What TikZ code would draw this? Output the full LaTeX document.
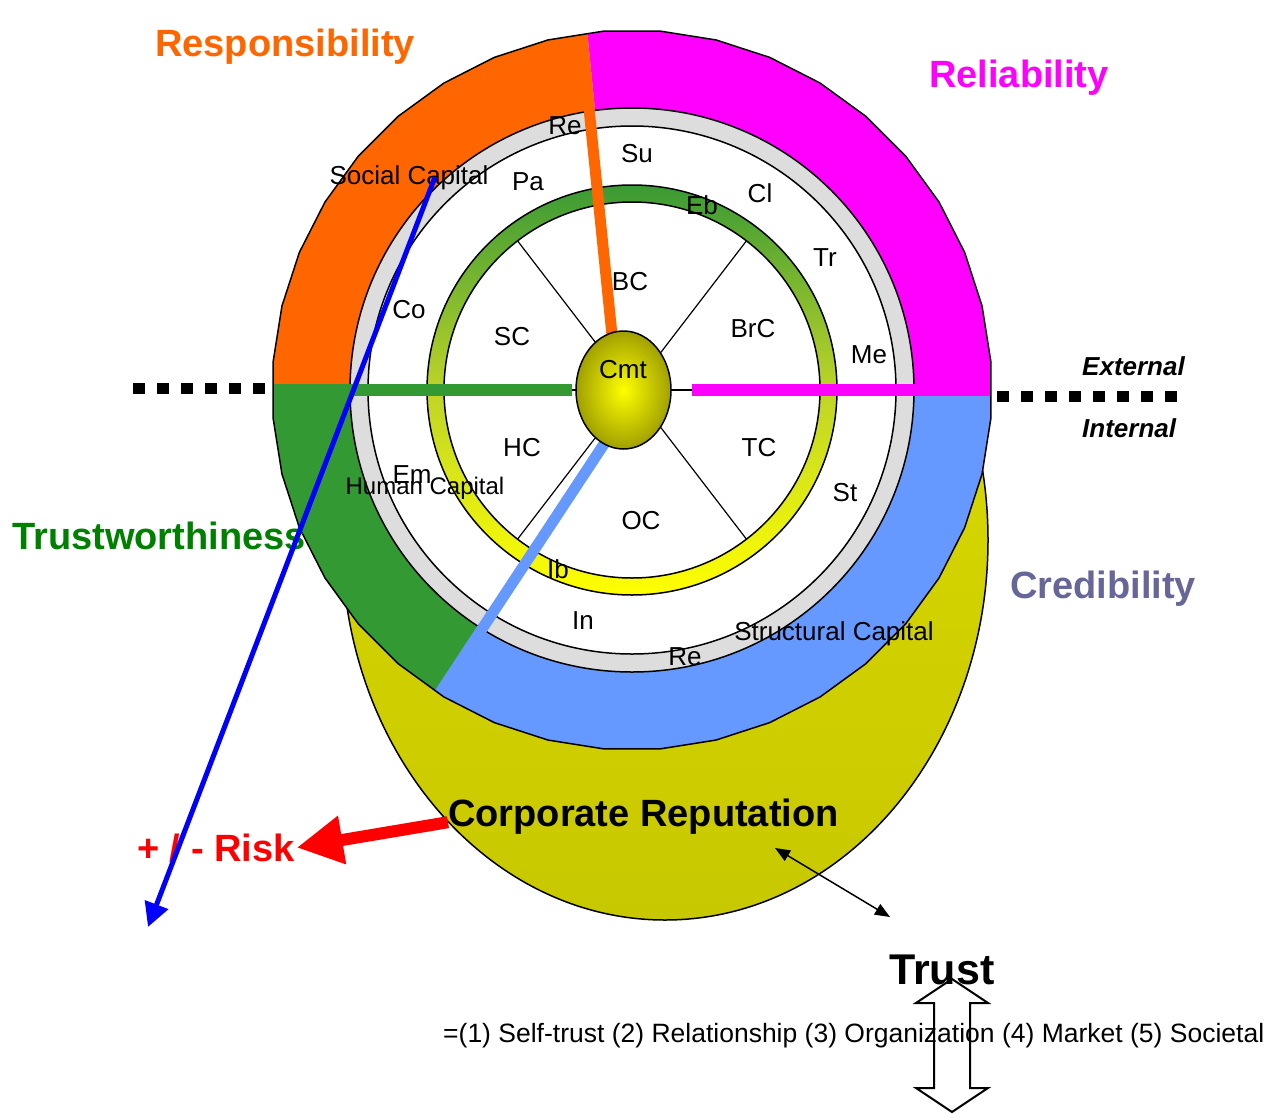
\documentclass[tikz,border=0pt]{standalone}
\usepackage{fontspec}
\setmainfont{Liberation Sans}
\usepackage{tikz}
\usetikzlibrary{shapes.geometric, arrows.meta}

\definecolor{resporange}{RGB}{255,102,0}
\definecolor{relmagenta}{RGB}{255,0,255}
\definecolor{trustgreen}{RGB}{51,153,51}
\definecolor{trusttext}{RGB}{0,128,0}
\definecolor{credblue}{RGB}{102,153,255}
\definecolor{credtext}{RGB}{102,102,153}
\definecolor{ringgray}{RGB}{221,221,221}
\definecolor{ringgreen}{RGB}{58,154,53}
\definecolor{ringmid}{RGB}{190,212,40}
\definecolor{repotop}{RGB}{222,222,0}
\definecolor{repobot}{RGB}{200,200,0}
\definecolor{cmtdark}{RGB}{160,160,0}

\newcommand{\fsz}[1]{\fontsize{#1}{#1}\selectfont}

\begin{document}
\begin{tikzpicture}[x=1pt, y=-1pt,
    rim/.style={draw=black, line width=1.5pt},
    spoke/.style={black, line width=1.2pt},
    bar/.style={line width=11pt},
    lbl/.style={anchor=base, inner sep=0pt, font=\fsz{26}},
    title/.style={anchor=base west, inner sep=0pt, font=\fsz{38}\bfseries},
    side/.style={anchor=base west, inner sep=0pt, font=\fsz{26}\bfseries\itshape},
    dots/.style={line width=11pt, dash pattern=on 12pt off 12pt}]
  \useasboundingbox (0,0) rectangle (1276,1113);
  \coordinate (ctr) at (632,390);

  % Corporate reputation
  \draw[rim, top color=repotop, bottom color=repobot] (665,540) ellipse [x radius=323pt, y radius=380pt];

  % Outer bands
  \begin{scope}
    \clip plot[domain=4.5:364.5, samples=41] ({632+360*cos(\x)}, {390-360*sin(\x)}) -- cycle;
    \fill[relmagenta] (623,390) -- (579,-50) -- (1100,-50) -- (1100,390) -- cycle;
    \fill[resporange] (623,390) -- (579,-50) -- (200,-50) -- (200,387) -- cycle;
    \fill[trustgreen] (634,390) -- (330,850) -- (200,850) -- (200,387) -- cycle;
    \fill[credblue] (634,390) -- (330,850) -- (1100,850) -- (1100,390) -- cycle;
  \end{scope}

  % Capital rings
  \draw[rim, fill=ringgray] (ctr) circle (282pt);
  \draw[rim, fill=white] (ctr) circle (264pt);
  \shade[top color=ringgreen, bottom color=yellow, middle color=ringmid] (ctr) circle (205pt);
  \draw[rim, fill=white] (ctr) circle (188pt);
  \draw[rim] (ctr) circle (205pt);

  % Spokes
  \foreach \a in {0,52.5,127.5,180,232.5,307.5}
    \draw[spoke] (ctr) -- ++(\a:188pt);

  % Bars
  \begin{scope}
    \clip plot[domain=4.5:364.5, samples=41] ({632+360*cos(\x)}, {390-360*sin(\x)}) -- cycle;
    \draw[bar, resporange] (613,345) -- (577,-10);
    \draw[bar, trustgreen, line width=12pt] (250,390) -- (572,390);
    \draw[bar, relmagenta, line width=12pt] (692,390) -- (1000,390);
    \draw[bar, credblue] (606,441) -- (420,723);
  \end{scope}
  \draw[rim] plot[domain=4.5:364.5, samples=41] ({632+360*cos(\x)}, {390-360*sin(\x)}) -- cycle;

  % Commitment core
  \node[ellipse, draw, line width=1.5pt, minimum width=95pt, minimum height=118pt,
        inner sep=0pt, inner color=yellow, outer color=cmtdark] (cmt) at (623.5,390) {};

  % Ring labels
  \foreach \t/\x/\y/\n in {Re/565/135/rea, Su/637/162/su, Pa/528/190/pa, Cl/760/202/cl,
      Eb/702/214/eb, Social Capital/409/184/soccap, Tr/825/266/tr, BC/630/290/bc,
      Co/409/318/co, SC/512/345/sc, BrC/753/337/brc, Me/869/363/me, Cmt/623/378/cmtlbl,
      HC/522/456/hc, TC/759/456/tc, Em/412/483/em, St/845/501/st, OC/641/529/oc,
      Ib/558/578/ib, In/583/629/inl, Structural Capital/834/640/strcap, Re/685/665/reb}
    \node[lbl] (\n) at (\x,\y) {\t};
  \node[lbl, font=\fsz{24}] (humcap) at (425,494) {Human Capital};

  % Titles
  \node[title, text=resporange] (resp) at (155,57) {Responsibility};
  \node[title, text=relmagenta] (reli) at (929,88) {Reliability};
  \node[title, text=trusttext] (trustw) at (12,549) {Trustworthiness};
  \node[title, text=credtext] (cred) at (1010,598) {Credibility};
  \node[title] (corprep) at (448,826) {Corporate Reputation};
  \node[title, text=red, inner sep=2pt] (risk) at (135,861) {+ / - Risk};
  \node[title, font=\fsz{43}\bfseries] (trust) at (889,984) {Trust};
  \node[side] (ext) at (1082,375) {External};
  \node[side] (int) at (1082,437) {Internal};
  \node[anchor=base west, inner sep=0pt, font=\fsz{26.5}] (levels) at (443,1042)
    {=(1) Self-trust (2) Relationship (3) Organization (4) Market (5) Societal};

  % External / internal divide
  \coordinate (dl1) at (133,388.5);
  \coordinate (dl2) at (265,388.5);
  \coordinate (dr1) at (997,396);
  \coordinate (dr2) at (1177,396);
  \draw[dots] (dl1) -- (dl2);
  \draw[dots] (dr1) -- (dr2);

  % Arrows
  \coordinate (capfoot) at (435,177);
  \coordinate (bluetip) at (148,927);
  \draw[line width=5pt, blue, -{Triangle[length=24pt, width=24pt]}] (capfoot) -- (bluetip);
  \draw[line width=12pt, red, -{Triangle[length=46pt, width=46pt]}] ([yshift=-6pt]corprep.west) -- (risk.east);
  \coordinate (repin) at (775,848);
  \coordinate (trustout) at (890,917);
  \draw[line width=1.5pt, {Triangle[length=15pt, width=12pt]}-{Triangle[length=15pt, width=12pt]}] (repin) -- (trustout);

  % Two-way arrow under Trust
  \draw[line width=2pt] (952,979) -- (988,1003) -- (970,1003) -- (970,1088) -- (988,1088)
    -- (952,1112) -- (916,1088) -- (934,1088) -- (934,1003) -- (916,1003) -- cycle;
\end{tikzpicture}
\end{document}
